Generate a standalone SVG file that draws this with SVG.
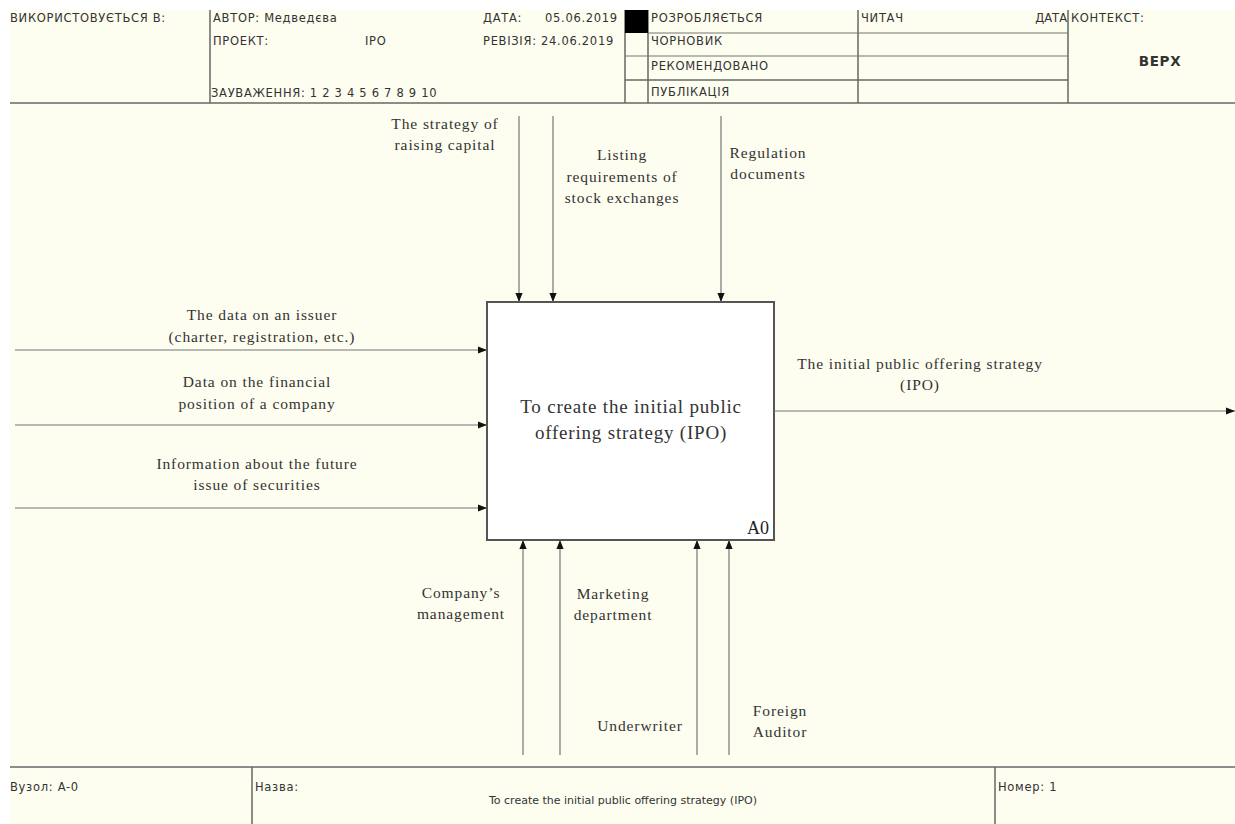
<svg xmlns="http://www.w3.org/2000/svg" width="1235" height="824" viewBox="0 0 1235 824">
<defs>
<marker id="ah" viewBox="0 0 10 10" refX="10" refY="5" markerWidth="9" markerHeight="9" markerUnits="userSpaceOnUse" orient="auto">
<path d="M0,1 L10,5 L0,9 Z" fill="#111"/>
</marker>
<style>
.frame{fill:none;stroke:#666;stroke-width:1.5}
.thin{fill:none;stroke:#777;stroke-width:1}
.hdr{font-family:"DejaVu Sans","Liberation Sans",sans-serif;font-size:11.5px;fill:#333;letter-spacing:0.7px}
.lbl{font-family:"Liberation Serif","Times New Roman",serif;font-size:15.5px;fill:#333;text-anchor:middle;letter-spacing:0.9px}
.box{font-family:"Liberation Serif","Times New Roman",serif;font-size:19px;fill:#333;text-anchor:middle;letter-spacing:0.8px}
.conn{fill:none;stroke:#777;stroke-width:1.2;marker-end:url(#ah)}
</style>
</defs>
<rect x="0" y="0" width="1235" height="824" fill="#ffffff"/>
<rect x="10" y="10" width="1225" height="814" fill="#fdfdf0"/>

<g id="header">
<line class="frame" x1="10" y1="103" x2="1235" y2="103"/>
<line class="frame" x1="210" y1="10" x2="210" y2="103"/>
<line class="frame" x1="625" y1="10" x2="625" y2="103"/>
<line class="frame" x1="648" y1="10" x2="648" y2="103"/>
<line class="frame" x1="858" y1="10" x2="858" y2="103"/>
<line class="frame" x1="1068" y1="10" x2="1068" y2="103"/>
<line class="thin" x1="648" y1="33" x2="1068" y2="33"/>
<line class="thin" x1="625" y1="56" x2="1068" y2="56"/>
<line class="frame" x1="625" y1="80" x2="1068" y2="80"/>
<rect x="625" y="10" width="23" height="23" fill="#000"/>
<text class="hdr" x="10" y="22">ВИКОРИСТОВУЄТЬСЯ В:</text>
<text class="hdr" x="213" y="22">АВТОР: Медведєва</text>
<text class="hdr" x="213" y="45">ПРОЕКТ:</text>
<text class="hdr" x="365" y="45">IPO</text>
<text class="hdr" x="211" y="97">ЗАУВАЖЕННЯ: 1 2 3 4 5 6 7 8 9 10</text>
<text class="hdr" x="483" y="22">ДАТА:</text>
<text class="hdr" x="545" y="22">05.06.2019</text>
<text class="hdr" x="483" y="45">РЕВІЗІЯ: 24.06.2019</text>
<text class="hdr" x="651" y="22">РОЗРОБЛЯЄТЬСЯ</text>
<text class="hdr" x="651" y="45">ЧОРНОВИК</text>
<text class="hdr" x="651" y="70">РЕКОМЕНДОВАНО</text>
<text class="hdr" x="651" y="96">ПУБЛІКАЦІЯ</text>
<text class="hdr" x="861" y="22">ЧИТАЧ</text>
<text class="hdr" x="1067" y="22" style="text-anchor:end;letter-spacing:0">ДАТА</text>
<text class="hdr" x="1071" y="22">КОНТЕКСТ:</text>
<text class="hdr" x="1160" y="66" style="text-anchor:middle;font-weight:bold;font-size:13.5px">ВЕРХ</text>
</g>

<g id="footer">
<line class="frame" x1="10" y1="767" x2="1235" y2="767"/>
<line class="frame" x1="252" y1="767" x2="252" y2="824"/>
<line class="frame" x1="995" y1="767" x2="995" y2="824"/>
<text class="hdr" x="10" y="791">Вузол: A-0</text>
<text class="hdr" x="255" y="791">Назва:</text>
<text class="hdr" x="623" y="804" style="text-anchor:middle;font-size:11px;letter-spacing:0">To create the initial public offering strategy (IPO)</text>
<text class="hdr" x="998" y="791">Номер: 1</text>
</g>

<g id="node-A0">
<rect x="487" y="302" width="287" height="238" fill="#ffffff" stroke="#555" stroke-width="2"/>
<text class="box" x="631" y="413">To create the initial public</text>
<text class="box" x="631" y="439">offering strategy (IPO)</text>
<text x="769" y="534" font-family="Liberation Serif,serif" font-size="18px" fill="#222" text-anchor="end">A0</text>
</g>

<g id="connectors">
<line class="conn" x1="519" y1="116" x2="519" y2="302"/>
<line class="conn" x1="553" y1="116" x2="553" y2="302"/>
<line class="conn" x1="721" y1="116" x2="721" y2="302"/>
<line class="conn" x1="15" y1="350" x2="487" y2="350"/>
<line class="conn" x1="15" y1="425" x2="487" y2="425"/>
<line class="conn" x1="15" y1="508" x2="487" y2="508"/>
<line class="conn" x1="774" y1="411" x2="1235" y2="411"/>
<line class="conn" x1="523" y1="755" x2="523" y2="540"/>
<line class="conn" x1="560" y1="755" x2="560" y2="540"/>
<line class="conn" x1="697" y1="755" x2="697" y2="540"/>
<line class="conn" x1="729" y1="755" x2="729" y2="540"/>
</g>

<g id="labels">
<text class="lbl" x="445" y="129">The strategy of</text>
<text class="lbl" x="445" y="150">raising capital</text>
<text class="lbl" x="622" y="160">Listing</text>
<text class="lbl" x="622" y="182">requirements of</text>
<text class="lbl" x="622" y="203">stock exchanges</text>
<text class="lbl" x="768" y="158">Regulation</text>
<text class="lbl" x="768" y="179">documents</text>
<text class="lbl" x="262" y="320">The data on an issuer</text>
<text class="lbl" x="262" y="342">(charter, registration, etc.)</text>
<text class="lbl" x="257" y="387">Data on the financial</text>
<text class="lbl" x="257" y="409">position of a company</text>
<text class="lbl" x="257" y="469">Information about the future</text>
<text class="lbl" x="257" y="490">issue of securities</text>
<text class="lbl" x="920" y="369">The initial public offering strategy</text>
<text class="lbl" x="920" y="390">(IPO)</text>
<text class="lbl" x="461" y="598">Company’s</text>
<text class="lbl" x="461" y="619">management</text>
<text class="lbl" x="613" y="599">Marketing</text>
<text class="lbl" x="613" y="620">department</text>
<text class="lbl" x="640" y="731">Underwriter</text>
<text class="lbl" x="780" y="716">Foreign</text>
<text class="lbl" x="780" y="737">Auditor</text>
</g>
</svg>
